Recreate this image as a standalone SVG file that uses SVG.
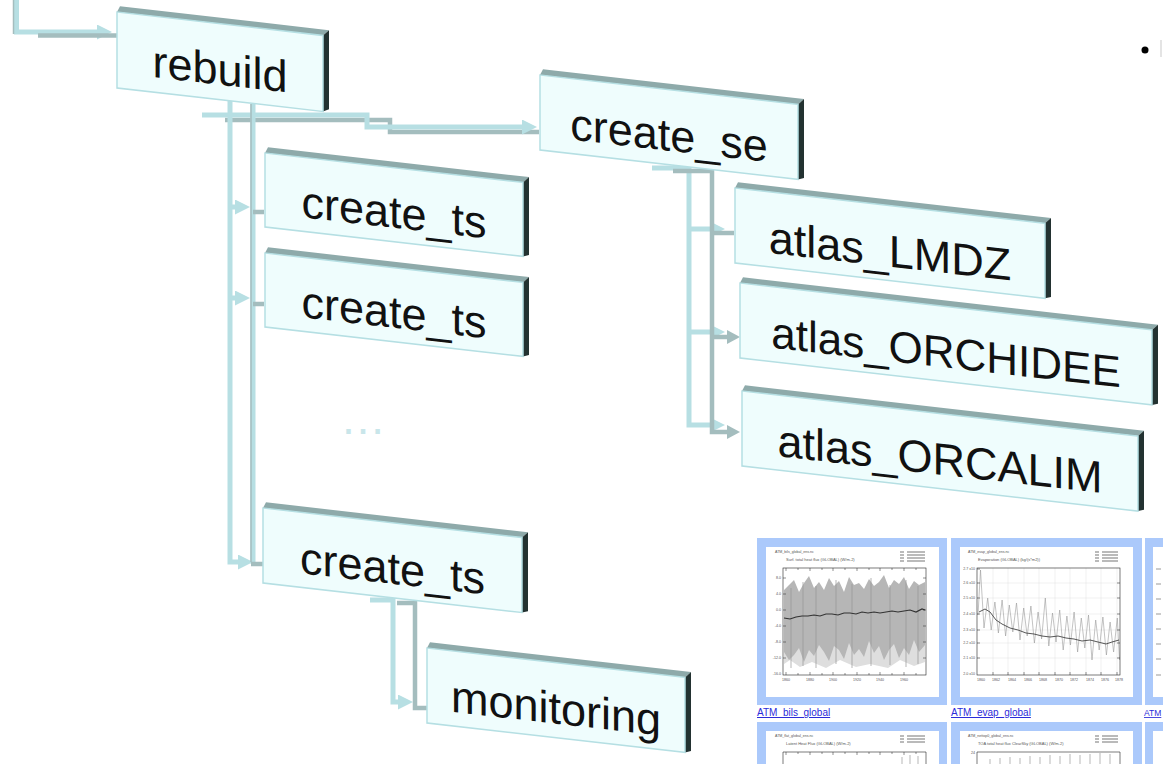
<svg xmlns="http://www.w3.org/2000/svg" width="1163" height="764" viewBox="0 0 1163 764">
<style>
.face{fill:#effdfd;stroke:#b5dfe3;stroke-width:1.5}
.top{fill:#8eaaaa}
.side{fill:#233231}
.lbl{font-family:"Liberation Sans",Arial,sans-serif;font-size:45px;fill:#111;text-anchor:middle}
.cl{fill:none;stroke:#b7dfe3;stroke-width:5}
.cg{fill:none;stroke:#a4bdbe;stroke-width:4.5}
.frm{fill:#abc9fb}
.wht{fill:#fff}
.pf{fill:none;stroke:#222;stroke-width:0.6}
.tk{fill:none;stroke:#222;stroke-width:0.5}
.grid{fill:none;stroke:#e2e2e2;stroke-width:0.5}
.tt{font-family:"Liberation Sans",Arial,sans-serif;font-size:4px;fill:#555}
.ax{font-family:"Liberation Sans",Arial,sans-serif;font-size:3.6px;fill:#555}
.lnk{font-family:"Liberation Sans",Arial,sans-serif;font-size:10px;fill:#2b2bd9;text-decoration:underline}
</style>
<defs>
<marker id="al" markerUnits="userSpaceOnUse" viewBox="0 0 16 16" markerWidth="16" markerHeight="16" refX="0" refY="7.5" orient="auto"><path d="M0,0 L15,7.5 L0,15 z" fill="#b7dfe3"/></marker>
<marker id="ag" markerUnits="userSpaceOnUse" viewBox="0 0 16 16" markerWidth="16" markerHeight="16" refX="0" refY="7" orient="auto"><path d="M0,0 L13,7 L0,14 z" fill="#a4bdbe"/></marker>
</defs>
<rect width="1163" height="764" fill="#fff"/>

<g id="connectors">
  <path class="cl" d="M16.5,0 V32 H97" marker-end="url(#al)"/>
  <path d="M13.5,0 V34" stroke="#a4bdbe" stroke-width="1.5" fill="none"/>
  <path class="cg" d="M38,35.5 H121" marker-end="url(#ag)"/>
  <path class="cg" d="M225,120 H390 V132 H539"/>
  <path class="cl" d="M202,115 H367 V127 H522" marker-end="url(#al)"/>
  <path class="cl" d="M230,100 V562 H238" marker-end="url(#al)"/>
  <path class="cl" d="M230,207 H235" marker-end="url(#al)"/>
  <path class="cl" d="M230,298 H235" marker-end="url(#al)"/>
  <path class="cl" d="M253,104 V564"/>
  <path d="M251,104 V562" stroke="#a4bdbe" stroke-width="1.5" fill="none"/>
  <path class="cg" d="M253,212 H264 M253,304 H264 M251,564 H264"/>
  <path class="cl" d="M652,168 H689 V425 H710" marker-end="url(#al)"/>
  <path class="cl" d="M689,229 H710" marker-end="url(#al)"/>
  <path class="cl" d="M689,332 H710" marker-end="url(#al)"/>
  <path class="cg" d="M673,171 H712 V432 H727" marker-end="url(#ag)"/>
  <path class="cg" d="M712,233 H734"/>
  <path class="cg" d="M712,337 H727" marker-end="url(#ag)"/>
  <path class="cl" d="M370,600 H393 V702 H398" marker-end="url(#al)"/>
  <path class="cg" d="M397,603 H415 V708 H428"/>
</g>

<g id="node-rebuild" transform="translate(117,12) skewY(6.5)">
  <polygon class="top" points="0,0 3,-6 212,-6 206,0"/>
  <polygon class="side" points="206,0 212,-6 212,73 206,76"/>
  <rect class="face" width="206" height="76"/>
  <text class="lbl" x="103" y="61">rebuild</text>
</g>
<g id="node-create-ts-1" transform="translate(265,153) skewY(6.5)">
  <polygon class="top" points="0,0 3,-6 264,-6 258,0"/>
  <polygon class="side" points="258,0 264,-6 264,72 258,74"/>
  <rect class="face" width="258" height="74"/>
  <text class="lbl" x="129" y="60">create_ts</text>
</g>
<g id="node-create-ts-2" transform="translate(265,253) skewY(6.5)">
  <polygon class="top" points="0,0 3,-6 264,-6 258,0"/>
  <polygon class="side" points="258,0 264,-6 264,72 258,74"/>
  <rect class="face" width="258" height="74"/>
  <text class="lbl" x="129" y="60">create_ts</text>
</g>
<g id="node-create-ts-3" transform="translate(263,508) skewY(6.5)">
  <polygon class="top" points="0,0 3,-6 265,-6 259,0"/>
  <polygon class="side" points="259,0 265,-6 265,73 259,75"/>
  <rect class="face" width="259" height="75"/>
  <text class="lbl" x="129.5" y="61">create_ts</text>
</g>
<g id="node-monitoring" transform="translate(427,648) skewY(6.5)">
  <polygon class="top" points="0,0 3,-6 264,-6 258,0"/>
  <polygon class="side" points="258,0 264,-6 264,73 258,75"/>
  <rect class="face" width="258" height="75"/>
  <text class="lbl" x="129" y="61">monitoring</text>
</g>
<g id="node-create-se" transform="translate(540,75) skewY(6.5)">
  <polygon class="top" points="0,0 3,-6 264,-6 258,0"/>
  <polygon class="side" points="258,0 264,-6 264,73 258,75"/>
  <rect class="face" width="258" height="75"/>
  <text class="lbl" x="129" y="61">create_se</text>
</g>
<g id="node-atlas-lmdz" transform="translate(735,188) skewY(6.5)">
  <polygon class="top" points="0,0 3,-6 316,-6 310,0"/>
  <polygon class="side" points="310,0 316,-6 316,73 310,75"/>
  <rect class="face" width="310" height="75"/>
  <text class="lbl" x="155" y="61">atlas_LMDZ</text>
</g>
<g id="node-atlas-orchidee" transform="translate(740,283) skewY(6.5)">
  <polygon class="top" points="0,0 3,-6 418,-6 412,0"/>
  <polygon class="side" points="412,0 418,-6 418,73 412,75"/>
  <rect class="face" width="412" height="75"/>
  <text class="lbl" x="206" y="61" style="font-size:44px">atlas_ORCHIDEE</text>
</g>
<g id="node-atlas-orcalim" transform="translate(742,391) skewY(6.5)">
  <polygon class="top" points="0,0 3,-6 402,-6 396,0"/>
  <polygon class="side" points="396,0 402,-6 402,73 396,75"/>
  <rect class="face" width="396" height="75"/>
  <text class="lbl" x="198" y="61">atlas_ORCALIM</text>
</g>

<text id="ellipsis" x="363" y="434" font-family="Liberation Sans, Arial, sans-serif" font-size="46" fill="#c9e6ea" text-anchor="middle">…</text>

<g id="bullet">
  <circle cx="1145" cy="50" r="3.5" fill="#000"/>
  <rect x="1160" y="40" width="2" height="17" fill="#e4e4e4"/>
</g>

<g id="thumbnails">
  <rect class="frm" x="757" y="538" width="190" height="167"/>
  <rect class="wht" x="766" y="547" width="173" height="150"/>
  <text class="ax" x="775" y="553">ATM_bils_global_ens.nc</text>
  <text class="tt" x="786" y="561">Surf. total heat flux (GLOBAL) (W/m-2)</text>
  <path d="M900,552h4M900,555h4M900,558h4M900,561h4M907,552h18M907,555h18M907,558h18M907,561h18" stroke="#777" stroke-width="1.2"/>
  <polygon fill="#dedede" points="784,628 800,632 820,630 840,634 860,630 880,632 900,628 925,626 925,662 914,666 900,660 888,668 870,664 856,667 840,660 826,668 812,662 800,667 790,660 784,664"/>
  <polygon fill="#b6b6b6" points="784,590 789,585 794,580 799,592 804,583 809,576 814,588 819,582 824,590 829,578 834,586 839,581 844,592 849,577 854,585 859,583 864,589 869,579 874,586 879,582 884,575 889,588 894,580 899,584 904,577 909,589 914,581 919,585 925,582 925,645 919,652 914,640 909,655 904,648 899,658 894,644 889,650 884,660 879,646 874,653 869,641 864,657 859,649 854,655 849,643 844,659 839,650 834,646 829,661 824,652 819,645 814,656 809,650 804,662 799,648 794,655 789,660 784,652"/>
  <path d="M791,588V668M803,582V666M816,586V668M836,580V664M852,584V668M871,578V666M890,585V665M906,580V667M918,586V664" stroke="#959595" stroke-width="0.7"/>
  <polyline fill="none" stroke="#333" stroke-width="1.2" points="784,618 790,619 796,617 802,616 808,616 814,615 820,616 826,614 832,614 838,615 844,613 850,613 856,614 862,612 868,613 874,612 880,613 886,612 892,611 898,612 904,611 910,610 916,612 922,609 925,610"/>
  <rect class="pf" x="783" y="568" width="143" height="107"/>
  <path class="tk" d="M786,568v3M798,568v2M810,568v3M822,568v2M833,568v3M845,568v2M857,568v3M869,568v2M880,568v3M892,568v2M904,568v3M916,568v2M786,675v-3M798,675v-2M810,675v-3M822,675v-2M833,675v-3M845,675v-2M857,675v-3M869,675v-2M880,675v-3M892,675v-2M904,675v-3M916,675v-2M783,578h3M783,594h3M783,610h3M783,626h3M783,642h3M783,658h3M926,578h-3M926,594h-3M926,610h-3M926,626h-3M926,642h-3M926,658h-3"/>
  <g class="ax" text-anchor="end">
    <text x="781" y="579">8.0</text><text x="781" y="595">4.0</text><text x="781" y="611">0.0</text><text x="781" y="627">-4.0</text><text x="781" y="643">-8.0</text><text x="781" y="659">-12.0</text><text x="781" y="675">-16.0</text>
  </g>
  <g class="ax" text-anchor="middle">
    <text x="786" y="681">1860</text><text x="810" y="681">1880</text><text x="833" y="681">1900</text><text x="857" y="681">1920</text><text x="880" y="681">1940</text><text x="904" y="681">1960</text>
  </g>
  <text class="lnk" x="757" y="716">ATM_bils_global</text>

  <rect class="frm" x="951" y="538" width="191" height="167"/>
  <rect class="wht" x="960" y="547" width="173" height="150"/>
  <text class="ax" x="968" y="553">ATM_evap_global_ens.nc</text>
  <text class="tt" x="978" y="561">Evaporation (GLOBAL) (kg/(s*m2))</text>
  <path d="M1095,552h4M1095,555h4M1095,558h4M1095,561h4M1102,552h16M1102,555h16M1102,558h16M1102,561h16" stroke="#777" stroke-width="1.2"/>
  <path class="grid" d="M993,568V675M1008,568V675M1024,568V675M1039,568V675M1055,568V675M1070,568V675M1086,568V675M1101,568V675M1117,568V675M977,583H1120M977,598H1120M977,614H1120M977,630H1120M977,643H1120M977,658H1120"/>
  <polyline fill="none" stroke="#9a9a9a" stroke-width="0.6" points="978,615 980.5,570 984,628 987.7,598 991.2,630 994.9,602 998.4,633 1002.1,600 1005.6,636 1009.3,605 1012.8,632 1016.5,603 1020,640 1023.7,608 1027.2,636 1030.9,606 1034.4,643 1038.1,612 1041.6,639 1045.3,598 1048.8,646 1052.5,613 1056,642 1059.7,610 1063.2,650 1066.9,616 1070.4,645 1074.1,612 1077.6,652 1081.3,618 1084.8,648 1088.5,615 1092,660 1095.7,620 1099.2,650 1102.9,617 1106.4,655 1110.1,622 1113.6,652 1117.3,618 1119.5,660"/>
  <polyline fill="none" stroke="#444" stroke-width="0.9" points="979,612 985,609 990,612 996,620 1002,624 1010,628 1018,630 1026,633 1034,634 1042,636 1050,637 1058,636 1066,638 1074,639 1082,641 1090,640 1098,642 1106,644 1112,642 1119,640"/>
  <rect class="pf" x="977" y="568" width="143" height="107"/>
  <path class="tk" d="M977,569h3M977,583h3M977,598h3M977,614h3M977,630h3M977,643h3M977,658h3M1120,583h-3M1120,598h-3M1120,614h-3M1120,630h-3M1120,643h-3M1120,658h-3M993,675v-3M1008,675v-3M1024,675v-3M1039,675v-3M1055,675v-3M1070,675v-3M1086,675v-3M1101,675v-3M1117,675v-3"/>
  <g class="ax" text-anchor="end">
    <text x="975" y="570">2.7 x10</text><text x="975" y="584">2.6 x10</text><text x="975" y="599">2.5 x10</text><text x="975" y="615">2.4 x10</text><text x="975" y="631">2.3 x10</text><text x="975" y="644">2.2 x10</text><text x="975" y="659">2.1 x10</text><text x="975" y="675">2.0 x10</text>
  </g>
  <g class="ax" text-anchor="middle">
    <text x="981" y="681">1860</text><text x="996" y="681">1862</text><text x="1012" y="681">1864</text><text x="1028" y="681">1866</text><text x="1043" y="681">1868</text><text x="1059" y="681">1870</text><text x="1074" y="681">1872</text><text x="1090" y="681">1874</text><text x="1105" y="681">1876</text><text x="1119" y="681">1878</text>
  </g>
  <text class="lnk" x="951" y="716">ATM_evap_global</text>

  <rect class="frm" x="1145" y="538" width="30" height="167"/>
  <rect class="wht" x="1153" y="547" width="30" height="150"/>
  <path d="M1156,569h5M1156,584h5M1156,599h5M1156,614h5M1156,629h5M1156,644h5M1156,659h5M1156,675h5" stroke="#999" stroke-width="1"/>
  <text class="lnk" x="1144" y="716" style="font-size:8.5px">ATM</text>

  <rect class="frm" x="757" y="722" width="190" height="50"/>
  <rect class="wht" x="766" y="731" width="173" height="40"/>
  <text class="ax" x="775" y="737">ATM_flat_global_ens.nc</text>
  <text class="tt" x="786" y="745">Latent Heat Flux (GLOBAL) (W/m-2)</text>
  <path d="M900,736h4M900,739h4M900,742h4M907,736h18M907,739h18M907,742h18" stroke="#777" stroke-width="1.2"/>
  <path class="pf" d="M783,764V752H926V764"/>
  <path class="tk" d="M786,752v3M798,752v2M810,752v3M822,752v2M833,752v3M845,752v2M857,752v3M869,752v2M880,752v3M892,752v2M904,752v3M916,752v2"/>
  <path d="M902,764V757M910,764V755M918,764V756" stroke="#999" stroke-width="0.7"/>
  <rect class="frm" x="951" y="722" width="191" height="50"/>
  <rect class="wht" x="960" y="731" width="173" height="40"/>
  <text class="ax" x="968" y="737">ATM_nettop0_global_ens.nc</text>
  <text class="tt" x="978" y="745">TOA total heat flux ClearSky (GLOBAL) (W/m-2)</text>
  <path d="M1095,736h4M1095,739h4M1095,742h4M1102,736h16M1102,739h16M1102,742h16" stroke="#777" stroke-width="1.2"/>
  <path class="pf" d="M977,764V752H1120V764"/>
  <path d="M990,764V759M1000,764V758M1010,764V757M1020,764V758M1030,764V756M1040,764V757M1050,764V755M1060,764V756M1070,764V754M1080,764V755M1090,764V754M1100,764V753M1110,764V754" stroke="#999" stroke-width="0.7"/>
  <text class="ax" x="975" y="754" text-anchor="end">24</text>
  <rect class="frm" x="1145" y="722" width="30" height="50"/>
  <rect class="wht" x="1153" y="731" width="30" height="40"/>
</g>
</svg>
